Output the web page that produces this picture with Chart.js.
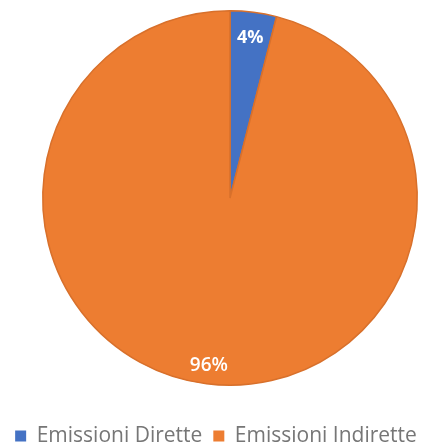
<!DOCTYPE html>
<html lang="it">
<head>
<meta charset="utf-8">
<title>Emissioni</title>
<script src="https://cdn.jsdelivr.net/npm/chart.js@4/dist/chart.umd.min.js"></script>
<style>
    html, body { margin: 0; padding: 0; background: #fff; }
    #emissioniChart { display: block; }
</style>
</head>
<body>
<canvas id="emissioniChart" width="432" height="445"></canvas>
<script>
// Dati del grafico
const categorie = ['Emissioni Dirette', 'Emissioni Indirette'];
const percentuali = [4, 96];
const coloriFette = ['#4472C4', '#ED7D31'];

// Impaginazione: riquadro della torta e riga della legenda
const PIE_FRAME = { left: 42, top: 10, size: 376 };
const LEGEND_ROW_Y = 436;
// distanza delle etichette dal centro, in frazione del raggio
const LABEL_RADIUS = [0.86, 0.9];

const emissioniPie = {
    chartInstance: null,

    /**
     * Sposta l'area della torta e la riga della legenda
     */
    framePlugin: {
        id: 'frame',
        afterLayout(chart) {
            const area = chart.chartArea;
            area.left = PIE_FRAME.left;
            area.top = PIE_FRAME.top;
            area.right = area.left + PIE_FRAME.size;
            area.bottom = area.top + PIE_FRAME.size;
            area.width = PIE_FRAME.size;
            area.height = PIE_FRAME.size;

            const legend = chart.legend;
            if (!legend) return;
            const labels = legend.options.labels;
            const shift = LEGEND_ROW_Y - (legend.top + labels.padding + labels.font.size / 2);
            legend.top += shift;
            legend.bottom += shift;
        }
    },

    /**
     * Etichette percentuali dentro le fette
     */
    labelPlugin: {
        id: 'sliceLabels',
        afterDatasetsDraw(chart) {
            const ctx = chart.ctx;
            const meta = chart.getDatasetMeta(0);
            ctx.save();
            ctx.fillStyle = '#ffffff';
            ctx.textAlign = 'center';
            ctx.textBaseline = 'middle';
            meta.data.forEach((arc, i) => {
                const p = arc.getProps(['x', 'y', 'startAngle', 'endAngle', 'outerRadius'], true);
                const mid = (p.startAngle + p.endAngle) / 2;
                const r = p.outerRadius * LABEL_RADIUS[i];
                ctx.font = (i === 0 ? 'bold 18px' : '600 19px') + ' "Open Sans", sans-serif';
                ctx.fillText(percentuali[i] + '%', p.x + Math.cos(mid) * r, p.y + Math.sin(mid) * r);
            });
            ctx.restore();
        }
    },

    initChart() {
        const ctx = document.getElementById('emissioniChart');
        if (typeof Chart === 'undefined') {
            console.error('Chart.js non caricato');
            return;
        }

        this.chartInstance = new Chart(ctx, {
            type: 'pie',
            data: {
                labels: categorie,
                datasets: [{
                    data: percentuali,
                    backgroundColor: coloriFette,
                    borderColor: '#D8702B',
                    borderWidth: 1.5
                }]
            },
            options: {
                responsive: false,
                animation: false,
                plugins: {
                    legend: {
                        display: true,
                        position: 'bottom',
                        labels: {
                            color: '#767676',
                            boxWidth: 11,
                            boxHeight: 11,
                            padding: 11,
                            font: {
                                family: '"Open Sans", sans-serif',
                                size: 21
                            },
                            generateLabels(chart) {
                                const items = Chart.overrides.doughnut.plugins.legend.labels.generateLabels(chart);
                                return items.map(item => Object.assign(item, { lineWidth: 0 }));
                            }
                        }
                    },
                    tooltip: { enabled: false }
                }
            },
            plugins: [this.framePlugin, this.labelPlugin]
        });
    }
};

emissioniPie.initChart();
</script>
</body>
</html>
